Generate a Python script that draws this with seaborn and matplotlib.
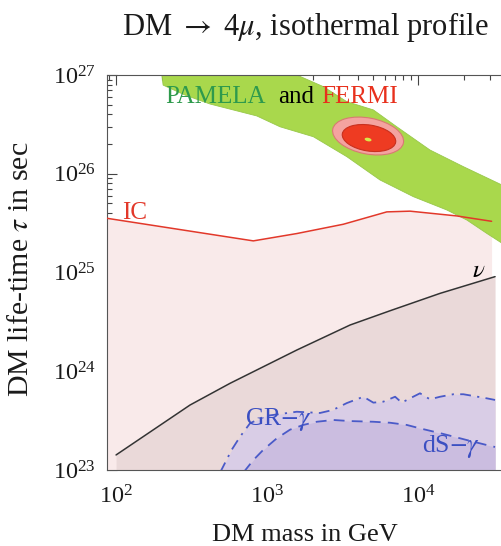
import numpy as np
import pandas as pd
import matplotlib
matplotlib.use("Agg")
import matplotlib.pyplot as plt
import matplotlib.transforms as mtransforms
from matplotlib.patches import Ellipse
from matplotlib.ticker import LogLocator, LogFormatterMathtext, NullFormatter
import seaborn as sns

# IC bound (red line)
ic_mass = [86, 811, 1574, 3199, 6209, 8851, 18030, 30690]
ic_tau = [3.55e25, 2.09e25, 2.48e25, 3.08e25, 4.11e25, 4.18e25, 3.74e25, 3.30e25]

# neutrino bound (black line)
nu_mass = [100, 309, 569, 1574, 3548, 6531, 14000, 32360]
nu_tau = [1.42e23, 4.55e23, 7.55e23, 1.64e24, 2.94e24, 4.10e24, 6.15e24, 9.08e24]

# GR-gamma bound (dash-dot)
gr_mass = [490, 583, 662, 771, 971, 1574, 2244, 2735, 3373, 4345, 5058, 5888,
           7047, 7798, 8851, 10300, 11990, 14000, 17140, 19950, 28510, 32360]
gr_tau = [0.95e23, 1.60e23, 2.17e23, 2.97e23, 3.52e23, 3.89e23, 3.78e23, 4.06e23,
          4.76e23, 5.52e23, 4.81e23, 4.92e23, 5.52e23, 4.81e23, 5.32e23, 5.98e23,
          5.20e23, 5.52e23, 5.85e23, 5.85e23, 5.32e23, 5.12e23]

# dS-gamma bound (dashed)
ds_mass = [700, 811, 944, 1159, 1419, 1738, 2133, 2748, 3548, 5058, 6531, 8414,
           10300, 14660, 21040, 28510, 32360]
ds_tau = [0.95e23, 1.26e23, 1.60e23, 2.09e23, 2.56e23, 2.86e23, 3.08e23, 3.21e23,
          3.13e23, 3.08e23, 3.01e23, 2.86e23, 2.64e23, 2.32e23, 2.01e23, 1.79e23, 1.71e23]

# PAMELA band edges
band_up_mass = [195, 1574, 2360, 3373, 5058, 7228, 11990, 19950, 35970, 44670]
band_up_tau = [2e27, 1e27, 7.62e26, 5.37e26, 4.43e26, 2.99e26, 1.74e26, 1.18e26, 7.69e25, 6.2e25]
band_lo_mass = [201, 205, 286, 420, 855, 1219, 2028, 3373, 5598, 9311, 15490, 21040,
                28510, 35970, 44670]
band_lo_tau = [1e27, 7.9e26, 6.27e26, 5.08e26, 3.85e26, 2.99e26, 2.37e26, 1.49e26,
               8.65e25, 5.86e25, 4.30e25, 3.40e25, 2.49e25, 1.98e25, 1.55e25]

# FERMI + PAMELA best-fit region (centre mass, centre tau)
fermi_outer = (4667, 2.41e26)
fermi_inner = (4732, 2.30e26)
best_fit = (4667, 2.22e26)

sns.set_style("ticks")
plt.rcParams["font.family"] = ["Liberation Serif", "DejaVu Serif"]
plt.rcParams["mathtext.fontset"] = "stix"

fig = plt.figure(figsize=(5.02, 5.46), dpi=100)
ax = fig.add_axes([107 / 502, 1 - 470 / 546, 1 - 107 / 502, 395 / 546])
ax.set_xscale("log")
ax.set_yscale("log")
ax.set_xlim(87.1, 35970)
ax.set_ylim(1e23, 1e27)

floor = 1e22
ax.fill_between(ic_mass, floor, ic_tau, color="#f9eaea", lw=0, zorder=1)
ax.fill_between(nu_mass, floor, nu_tau, color="#ead9d9", lw=0, zorder=1.1)
ax.fill_between(gr_mass, floor, gr_tau, color="#d9cde6", lw=0, zorder=1.2)
ax.fill_between(ds_mass, floor, ds_tau, color="#cbbde0", lw=0, zorder=1.3)

band_m = band_up_mass + band_lo_mass[::-1]
band_t = band_up_tau + band_lo_tau[::-1]
ax.fill(band_m, band_t, facecolor="#a9d84c", edgecolor="#98c84a", lw=0.6, zorder=2)

ic = pd.DataFrame({"mass": ic_mass, "tau": ic_tau})
nu = pd.DataFrame({"mass": nu_mass, "tau": nu_tau})
gr = pd.DataFrame({"mass": gr_mass, "tau": gr_tau})
ds = pd.DataFrame({"mass": ds_mass, "tau": ds_tau})
sns.lineplot(data=ic, x="mass", y="tau", color="#e2382a", lw=1.1, ax=ax, zorder=4, sort=False)
sns.lineplot(data=nu, x="mass", y="tau", color="#333333", lw=1.1, ax=ax, zorder=4, sort=False)
sns.lineplot(data=gr, x="mass", y="tau", color="#4a5ac8", lw=1.3, ax=ax, zorder=4,
             sort=False, linestyle=(0, (6, 3.5, 1.2, 3.5)))
sns.lineplot(data=ds, x="mass", y="tau", color="#4a5ac8", lw=1.3, ax=ax, zorder=4,
             sort=False, linestyle=(0, (6, 4)))


def blob(center, w, h, angle, fc, ec, z):
    tr = fig.dpi_scale_trans + mtransforms.ScaledTranslation(center[0], center[1], ax.transData)
    e = Ellipse((0, 0), w / 100, h / 100, angle=angle, transform=tr,
                facecolor=fc, edgecolor=ec, lw=0.8, zorder=z)
    ax.add_patch(e)


blob(fermi_outer, 72, 36, -11, "#f4a3a0", "#d97a72", 3)
blob(fermi_inner, 54, 26, -9, "#ee3b22", "#c8301e", 3.1)
blob(best_fit, 7, 3.5, -12, "#d8e84a", "none", 3.2)

ax.text(211, 5.2e26, "PAMELA", color="#2e9a4c", fontsize=18, zorder=5)
ax.text(1183, 5.2e26, "and", color="black", fontsize=18, zorder=5)
ax.text(2301, 5.2e26, "FERMI", color="#e8301c", fontsize=18, zorder=5)
ax.text(109, 3.48e25, "IC", color="#e2382a", fontsize=18, zorder=5)
ax.text(22700, 9.06e24, r"$\nu$", color="black", fontsize=18, zorder=5)
ax.text(715, 2.86e23, r"GR$-\gamma$", color="#3b4fc2", fontsize=18.5, zorder=5)
ax.text(10570, 1.53e23, r"dS$-\gamma$", color="#3b4fc2", fontsize=18.5, zorder=5)

ax.xaxis.set_major_locator(LogLocator(base=10))
ax.yaxis.set_major_locator(LogLocator(base=10))
ax.xaxis.set_major_formatter(LogFormatterMathtext())
ax.yaxis.set_major_formatter(LogFormatterMathtext())
ax.xaxis.set_minor_formatter(NullFormatter())
ax.yaxis.set_minor_formatter(NullFormatter())
ax.tick_params(which="both", direction="in", top=True, right=False, color="#444444",
               width=0.8, labelsize=17.5, labelcolor="#1a1a1a")
ax.tick_params(which="major", length=7)
ax.tick_params(which="minor", length=3.5)
ax.tick_params(axis="x", which="major", pad=11)
ax.tick_params(axis="y", which="major", pad=8)
ax.spines["right"].set_visible(False)
for s in ["left", "bottom", "top"]:
    ax.spines[s].set_color("#555555")
    ax.spines[s].set_linewidth(0.8)
ax.set_xlabel("")
ax.set_ylabel("")

fig.text(305 / 502, 1 - 35 / 546, r"DM $\rightarrow$ 4$\mu$, isothermal profile",
         ha="center", va="baseline", fontsize=22, color="#1a1a1a")
fig.text(305 / 502, 1 - 541 / 546, "DM mass in GeV", ha="center", va="baseline",
         fontsize=19, color="#1a1a1a")
fig.text(34 / 502, 1 - 269 / 546, r"DM life-time $\tau$ in sec", rotation=90,
         ha="right", va="center", fontsize=21.5, color="#1a1a1a")

fig.savefig("out.png", dpi=100)
